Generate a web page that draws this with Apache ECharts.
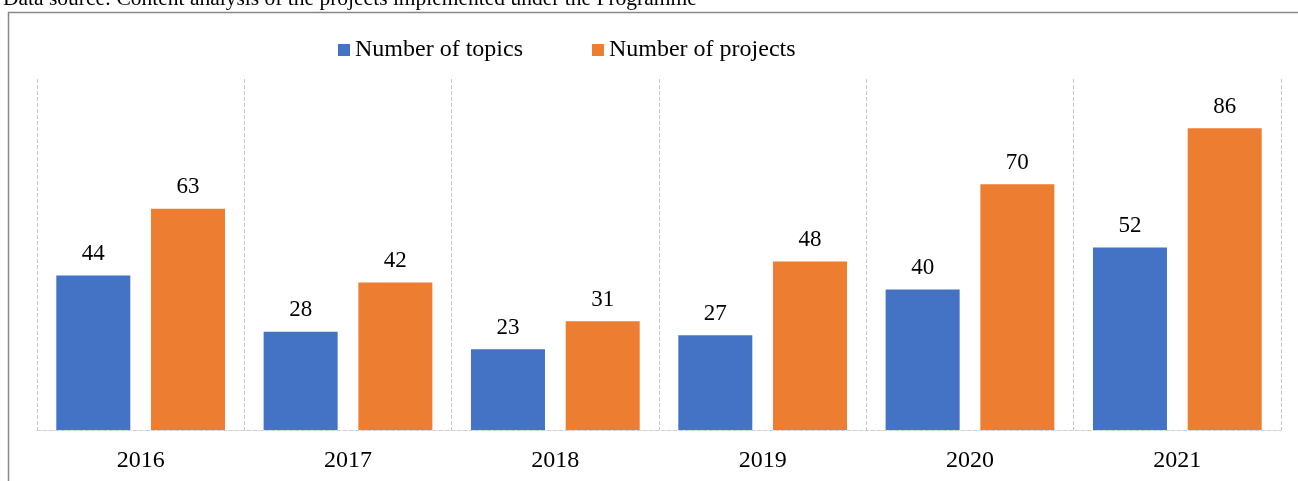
<!DOCTYPE html>
<html><head><meta charset="utf-8">
<script src="https://cdn.jsdelivr.net/npm/echarts@6/dist/echarts.min.js"></script>
<style>html,body{margin:0;padding:0;background:#fff}#c{width:1298px;height:481px}</style>
</head><body><div id="c"></div>
<script>
const categories = ['2016','2017','2018','2019','2020','2021'];
const topics = [44, 28, 23, 27, 40, 52];
const projects = [63, 42, 31, 48, 70, 86];
const sourceText = 'Data source: Content analysis of the projects implemented under the Programme';

const chart = echarts.init(document.getElementById('c'));
const font = '"Liberation Serif", "Times New Roman", serif';
const lbl = {show: true, position: 'top', distance: 10, fontFamily: font, fontSize: 23, color: '#000'};
chart.setOption({
  animation: false,
  textStyle: {fontFamily: font},
  graphic: [
    {type: 'rect', shape: {x: 8.5, y: 12.5, width: 1400, height: 600}, style: {fill: 'none', stroke: '#888', lineWidth: 1.5}},
    {type: 'text', left: 3, top: -12, style: {text: sourceText, font: '21.5px ' + font, fill: '#000'}}
  ],
  legend: {
    left: 338, top: 38, padding: 0, itemWidth: 12, itemHeight: 12, itemGap: 69,
    icon: 'rect',
    textStyle: {fontFamily: font, fontSize: 24, color: '#000'},
    data: ['Number of topics', 'Number of projects']
  },
  grid: {left: 37, right: 17, top: 79, bottom: 51},
  xAxis: {
    type: 'category', data: categories,
    axisLine: {lineStyle: {color: '#d0d0d0', type: 'dashed'}},
    axisTick: {show: false},
    axisLabel: {fontFamily: font, fontSize: 24, color: '#000', margin: 19},
    splitLine: {show: true, lineStyle: {color: '#c8c8c8', type: 'dashed'}}
  },
  yAxis: {type: 'value', min: 0, max: 100, show: false, splitLine: {show: false}},
  series: [
    {name: 'Number of topics', type: 'bar', data: topics, barWidth: 74, barGap: '28%', itemStyle: {color: '#4472C4'}, label: lbl},
    {name: 'Number of projects', type: 'bar', data: projects, barWidth: 74, itemStyle: {color: '#ED7D31'}, label: lbl}
  ]
});
</script></body></html>
